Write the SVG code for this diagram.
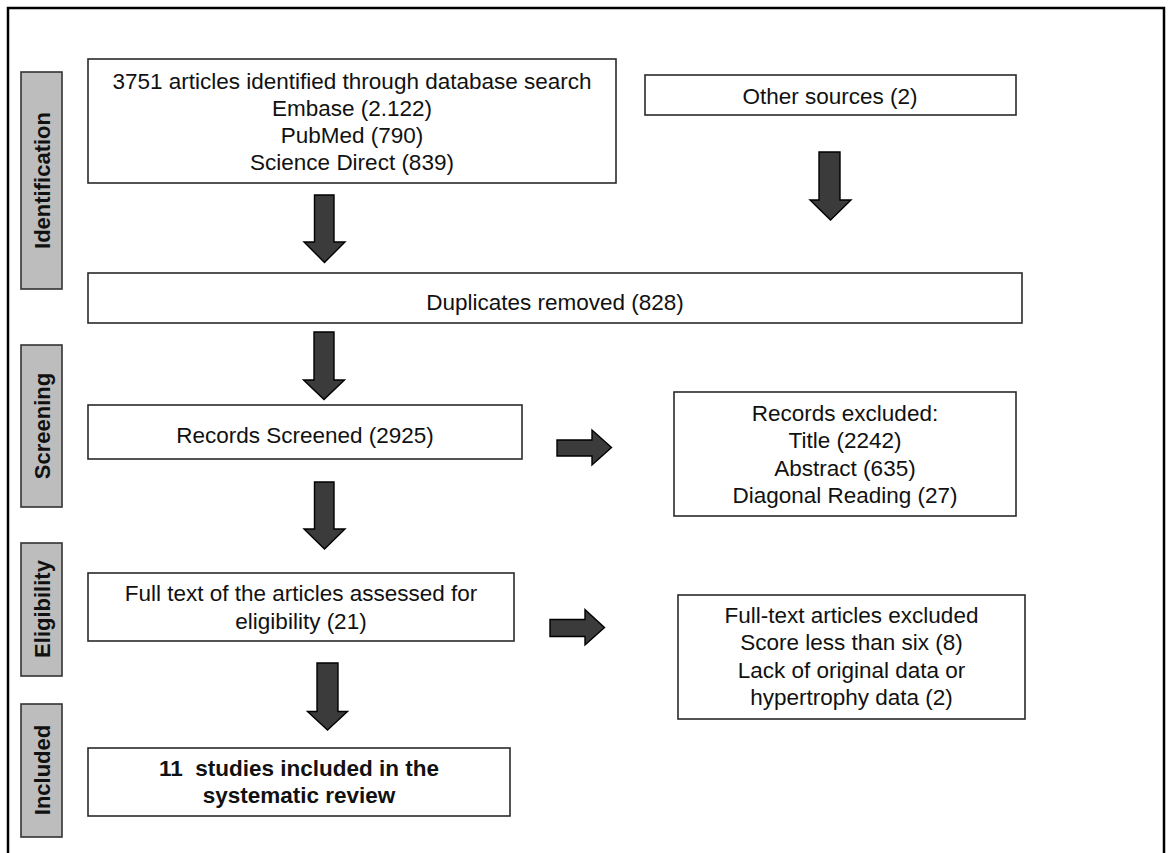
<svg xmlns="http://www.w3.org/2000/svg" width="1170" height="853" viewBox="0 0 1170 853">
<style>
.box{fill:#fff;stroke:#2a2a2a;stroke-width:1.6}
.lab{fill:#bdbdbd;stroke:#333;stroke-width:1.6}
.t{font-family:"Liberation Sans",Arial,sans-serif;font-size:22.5px;fill:#111;text-anchor:middle}
.b{font-weight:bold}
.lt{font-family:"Liberation Sans",Arial,sans-serif;font-size:22px;font-weight:bold;fill:#111;text-anchor:middle}
.arr{fill:#3b3b3b;stroke:#000;stroke-width:1.4;stroke-linejoin:miter}
</style>
<rect x="0" y="0" width="1170" height="853" fill="#fff"/>
<rect x="8" y="8" width="1156" height="900" fill="none" stroke="#000" stroke-width="2.5"/>

<g id="label-identification">
<rect class="lab" x="21" y="72" width="41" height="217"/>
<text class="lt" transform="translate(49.5,180.5) rotate(-90)">Identification</text>
</g>
<g id="label-screening">
<rect class="lab" x="21" y="345" width="41" height="162"/>
<text class="lt" transform="translate(49.5,426) rotate(-90)">Screening</text>
</g>
<g id="label-eligibility">
<rect class="lab" x="21" y="543" width="41" height="133"/>
<text class="lt" transform="translate(49.5,609) rotate(-90)">Eligibility</text>
</g>
<g id="label-included">
<rect class="lab" x="21" y="704" width="41" height="133"/>
<text class="lt" transform="translate(49.5,770) rotate(-90)">Included</text>
</g>

<g id="node-database">
<rect class="box" x="88" y="59" width="528" height="124"/>
<text class="t" x="352" y="89">3751 articles identified through database search</text>
<text class="t" x="352" y="116">Embase (2.122)</text>
<text class="t" x="352" y="143">PubMed (790)</text>
<text class="t" x="352" y="170">Science Direct (839)</text>
</g>
<g id="node-other">
<rect class="box" x="645" y="75" width="371" height="40"/>
<text class="t" x="830" y="103.5">Other sources (2)</text>
</g>
<g id="node-duplicates">
<rect class="box" x="88" y="273" width="934" height="50"/>
<text class="t" x="555" y="309.5">Duplicates removed (828)</text>
</g>
<g id="node-screened">
<rect class="box" x="88" y="405" width="434" height="54"/>
<text class="t" x="305" y="443">Records Screened (2925)</text>
</g>
<g id="node-excluded">
<rect class="box" x="674" y="392" width="342" height="124"/>
<text class="t" x="845" y="420.5">Records excluded:</text>
<text class="t" x="845" y="448">Title (2242)</text>
<text class="t" x="845" y="475.5">Abstract (635)</text>
<text class="t" x="845" y="503">Diagonal Reading (27)</text>
</g>
<g id="node-fulltext">
<rect class="box" x="88" y="573" width="426" height="68"/>
<text class="t" x="301" y="601">Full text of the articles assessed for</text>
<text class="t" x="301" y="629">eligibility (21)</text>
</g>
<g id="node-fulltext-excluded">
<rect class="box" x="678" y="595" width="347" height="124"/>
<text class="t" x="851.5" y="622.5">Full-text articles excluded</text>
<text class="t" x="851.5" y="650">Score less than six (8)</text>
<text class="t" x="851.5" y="677.5">Lack of original data or</text>
<text class="t" x="851.5" y="704.5">hypertrophy data (2)</text>
</g>
<g id="node-included">
<rect class="box" x="88" y="748" width="422" height="68"/>
<text class="t b" x="299" y="776" xml:space="preserve">11  studies included in the</text>
<text class="t b" x="299" y="803">systematic review</text>
</g>

<g id="connectors">
<path class="arr" d="M819,152 H840 V200 H851 L830.5,220 L810,200 H819 Z"/>
<path class="arr" d="M314.5,195 H334 V242 H345 L324.5,262.5 L304,242 H314.5 Z"/>
<path class="arr" d="M314,332 H334 V380 H344.5 L324,399.5 L303.5,380 H314 Z"/>
<path class="arr" d="M314.5,482 H334 V529 H345 L324.5,549 L304,529 H314.5 Z"/>
<path class="arr" d="M317,663 H338 V711.5 H347.5 L327.5,730 L307.5,711.5 H317 Z"/>
<path class="arr" d="M557,440 H592 V430 L611.5,447.5 L592,465 V456 H557 Z"/>
<path class="arr" d="M550,619.5 H585 V609.5 L604.5,627.5 L585,645 V636.5 H550 Z"/>
</g>
</svg>
